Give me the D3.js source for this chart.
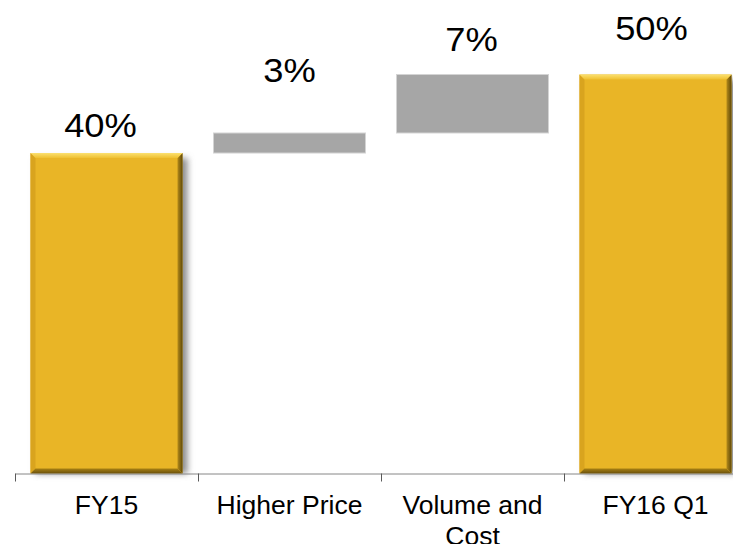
<!DOCTYPE html>
<html>
<head>
<meta charset="utf-8">
<script src="https://cdn.jsdelivr.net/npm/d3@7"></script>
<style>
  html, body { margin: 0; padding: 0; background: #fff; overflow: hidden; }
  svg { display: block; font-family: Arial, "Liberation Sans", sans-serif; }
</style>
</head>
<body>
<svg id="chart"></svg>
<script>
// chart data
const categories = ["FY15", "Higher Price", "Volume and Cost", "FY16 Q1"];
const tickLabels = [["FY15"], ["Higher Price"], ["Volume and", "Cost"], ["FY16 Q1"]];
const values = [40, 2.5, 7.3, 49.8];
const kinds = ["total", "delta", "delta", "total"];
const valueLabels = ["40%", "3%", "7%", "50%"];

const width = 733, height = 544;
const svg = d3.select("#chart").attr("width", width).attr("height", height);

// waterfall steps
let running = 0;
const steps = categories.map((c, i) => {
  let y0, y1;
  if (kinds[i] === "total") {
    y0 = 0; y1 = values[i]; running = values[i];
  } else {
    y0 = running; y1 = running + values[i]; running = y1;
  }
  return { cat: c, kind: kinds[i], y0, y1, label: valueLabels[i], i };
});

const x = d3.scaleBand().domain(categories).range([15, 747])
  .paddingInner(0.1694).paddingOuter(0.0847);
const xEdge = d3.scaleLinear().domain([0, categories.length]).range([15, 747]);
const y = d3.scaleLinear().domain([0, 59.1]).range([473.5, 0]);

const defs = svg.append("defs");
defs.append("filter").attr("id", "shadow")
  .attr("x", "-20%").attr("y", "-20%").attr("width", "140%").attr("height", "140%")
  .append("feGaussianBlur").attr("stdDeviation", 3);

const gTop = defs.append("linearGradient").attr("id", "bevelTop")
  .attr("x1", 0).attr("y1", 0).attr("x2", 0).attr("y2", 1);
gTop.append("stop").attr("offset", "0%").attr("stop-color", "#fbe070");
gTop.append("stop").attr("offset", "100%").attr("stop-color", "#efc030");

const gRight = defs.append("linearGradient").attr("id", "bevelRight")
  .attr("x1", 0).attr("y1", 0).attr("x2", 1).attr("y2", 0);
gRight.append("stop").attr("offset", "0%").attr("stop-color", "#b38a1a");
gRight.append("stop").attr("offset", "100%").attr("stop-color", "#5e4808");

const gBottom = defs.append("linearGradient").attr("id", "bevelBottom")
  .attr("x1", 0).attr("y1", 0).attr("x2", 0).attr("y2", 1);
gBottom.append("stop").attr("offset", "0%").attr("stop-color", "#a88114");
gBottom.append("stop").attr("offset", "100%").attr("stop-color", "#6a500a");

const totals = steps.filter(d => d.kind === "total");
const deltas = steps.filter(d => d.kind === "delta");

// shadows behind the gold bars
svg.append("g").selectAll("rect").data(totals).join("rect")
  .attr("x", d => x(d.cat) + 5)
  .attr("y", d => y(d.y1) + 5)
  .attr("width", x.bandwidth())
  .attr("height", d => y(d.y0) - y(d.y1) - 5)
  .attr("fill", "#8c8c8c")
  .attr("filter", "url(#shadow)");

// gold bars with a bevel
const b = 5;
const bar = svg.append("g").selectAll("g").data(totals).join("g");
bar.append("rect")
  .attr("x", d => x(d.cat))
  .attr("y", d => y(d.y1))
  .attr("width", x.bandwidth())
  .attr("height", d => y(d.y0) - y(d.y1))
  .attr("fill", "#e9b526");

function bevel(d, side) {
  const x0 = x(d.cat), x1 = x0 + x.bandwidth();
  const t = y(d.y1), btm = y(d.y0);
  const p = {
    top: [[x0, t], [x1, t], [x1 - b, t + b], [x0 + b, t + b]],
    left: [[x0, t], [x0 + b, t + b], [x0 + b, btm - b], [x0, btm]],
    right: [[x1, t], [x1, btm], [x1 - b, btm - b], [x1 - b, t + b]],
    bottom: [[x0, btm], [x0 + b, btm - b], [x1 - b, btm - b], [x1, btm]]
  }[side];
  return "M" + p.map(q => q.join(",")).join("L") + "Z";
}
bar.append("path").attr("d", d => bevel(d, "left")).attr("fill", "#d9a41e");
bar.append("path").attr("d", d => bevel(d, "bottom")).attr("fill", "url(#bevelBottom)");
bar.append("path").attr("d", d => bevel(d, "right")).attr("fill", "url(#bevelRight)");
bar.append("path").attr("d", d => bevel(d, "top")).attr("fill", "url(#bevelTop)");

// grey step bars
svg.append("g").selectAll("rect").data(deltas).join("rect")
  .attr("x", d => x(d.cat))
  .attr("y", d => y(d.y1))
  .attr("width", x.bandwidth())
  .attr("height", d => y(d.y0) - y(d.y1))
  .attr("fill", "#a6a6a6")
  .attr("stroke", "#d4d4d4")
  .attr("stroke-width", 1);

// value labels (text boxes sit at uneven heights in the original)
const labelLift = [16, 51, 24, 35];
const labelShift = [-6, 0, -1, -4];
svg.append("g").selectAll("text").data(steps).join("text")
  .attr("transform", d => `translate(${x(d.cat) + x.bandwidth() / 2 + labelShift[d.i]},${y(d.y1) - labelLift[d.i]}) scale(1.1,1)`)
  .attr("text-anchor", "middle")
  .attr("font-size", 33)
  .attr("fill", "#000")
  .text(d => d.label);

// axis: ticks at category boundaries
const axis = svg.append("g")
  .attr("transform", `translate(0,${y(0)})`)
  .call(d3.axisBottom(xEdge).ticks(categories.length).tickFormat("").tickSize(8).tickSizeOuter(0));
axis.select(".domain").attr("stroke", "#868686");
axis.selectAll(".tick line").attr("stroke", "#5a5a5a");

// category labels
svg.append("g").selectAll("text").data(categories).join("text")
  .attr("x", d => x(d) + x.bandwidth() / 2)
  .attr("y", 514)
  .attr("text-anchor", "middle")
  .attr("font-size", 26.5)
  .attr("fill", "#000")
  .selectAll("tspan").data((d, i) => tickLabels[i]).join("tspan")
  .attr("x", function () { return d3.select(this.parentNode).attr("x"); })
  .attr("dy", (d, j) => j === 0 ? 0 : 31)
  .text(d => d);
</script>
</body>
</html>
